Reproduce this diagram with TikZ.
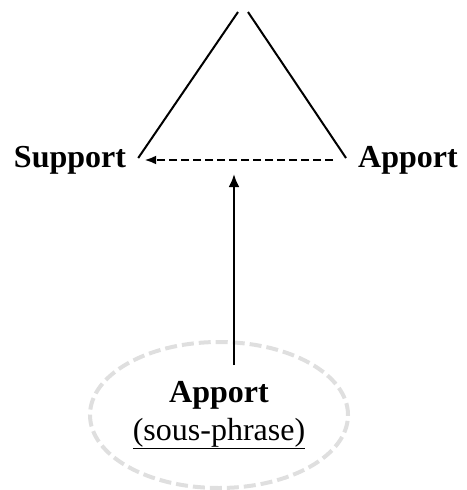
\documentclass[tikz,border=0pt]{standalone}
\usepackage{fontspec}
\setmainfont{Liberation Serif}
\usetikzlibrary{arrows.meta,shapes.geometric}

\tikzset{
	term/.style={font=\fontsize{32}{38}\selectfont\bfseries, inner sep=12pt},
	side/.style={line width=2pt},
	link/.style={line width=2.8pt, -{Latex[length=13pt,width=11pt]}},
	cloud/.style={ellipse, draw=gray!25, line width=4pt, dash pattern=on 12pt off 5pt,
		minimum width=258pt, minimum height=146pt, align=center,
		font=\fontsize{32}{38}\selectfont}
}

\begin{document}
\begin{tikzpicture}[x=1pt,y=-1pt]
	\useasboundingbox (0,0) rectangle (466,490);

	% les deux termes
	\node[term] (support) at (70,160) {Support};
	\node[term] (apport) at (408,160) {Apport};
	\coordinate (tl) at (238,12);
	\coordinate (tr) at (248,12);

	% triangle
	\draw[side] ([yshift=2pt]support.east) -- (tl);
	\draw[side] (tr) -- ([yshift=2pt]apport.west);

	% apport -> support
	\draw[line width=2.6pt, dash pattern=on 8pt off 4pt, -{Latex[length=12pt,width=9pt]}, shorten <=13pt, shorten >=6pt]
		(apport.west) -- (support.east);

	% sous-phrase
	\node[cloud] (sub) at (219,415) {\textbf{Apport}\\\underline{(sous-phrase)}};
	\coordinate (mid) at (234,174);
	\draw[link] ([xshift=15pt,yshift=-25pt]sub.north) -- (mid);

\end{tikzpicture}
\end{document}
